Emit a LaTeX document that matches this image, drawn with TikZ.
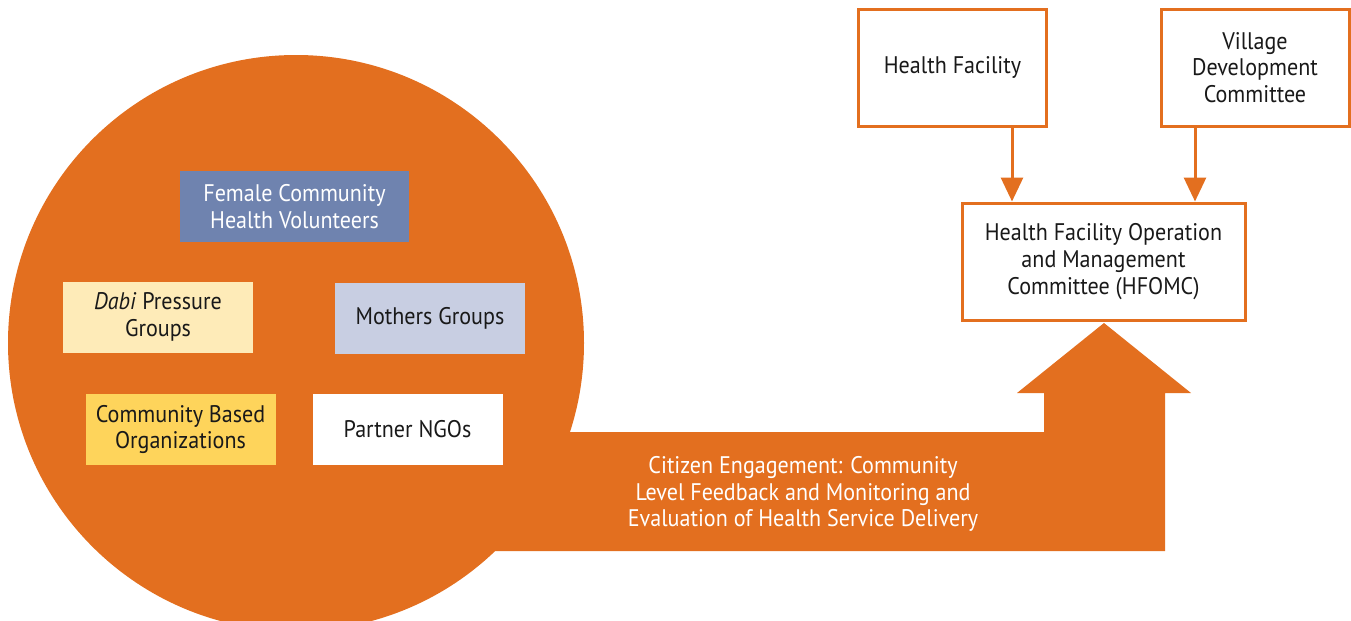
\documentclass[tikz,border=0pt]{standalone}
\usepackage{fontspec}
\setmainfont[FakeStretch=0.92]{PT Sans}
\usepackage{tikz}
\usetikzlibrary{arrows.meta,calc}

\definecolor{hforange}{HTML}{E36F1F}
\definecolor{fchvblue}{HTML}{6F83AF}
\definecolor{dabiyellow}{HTML}{FEEBB8}
\definecolor{mothersgrey}{HTML}{C8CEE2}
\definecolor{cbogold}{HTML}{FED45B}

\begin{document}
\begin{tikzpicture}[x=0.5pt,y=-0.5pt]
\tikzstyle{every node}=[font=\fontsize{12}{13.3}\selectfont,align=center,inner sep=0pt]
\tikzstyle{group}=[rectangle,minimum width=95pt,minimum height=35.5pt,text=black!90]
\tikzstyle{body}=[rectangle,draw=hforange,line width=1.5pt,fill=white,minimum height=58.5pt,text=black!90]
\tikzstyle{flow}=[draw=hforange,line width=1.5pt,-{Triangle[width=11pt,length=12pt]}]
\useasboundingbox (0,0) rectangle (1351,621);
\clip (0,0) rectangle (1351,621);

% community circle and the engagement arrow
\fill[hforange] (296,343) circle (144pt);
\fill[hforange] (296,432) -- (1044,432) -- (1044,393) -- (1017,393) -- (1104,323)
  -- (1191,393) -- (1165,393) -- (1165,551) -- (296,551) -- cycle;

% groups inside the circle
\node[group,fill=fchvblue,text=white,minimum width=114.5pt] (fchv) at (294.5,206.5) {Female Community\\Health Volunteers};
\node[group,fill=dabiyellow] (dabi) at (158,317) {\textit{Dabi} Pressure\\Groups};
\node[group,fill=mothersgrey] (mothers) at (430,318) {Mothers Groups};
\node[group,fill=cbogold] (cbo) at (180.5,429.5) {Community Based\\Organizations};
\node[group,fill=white] (ngo) at (407.5,429.5) {Partner NGOs};

\node[text=white] (engage) at (803,494) {Citizen Engagement: Community\\Level Feedback and Monitoring and\\Evaluation of Health Service Delivery};

% committees
\node[body,minimum width=94pt] (hf) at (952.5,67.5) {Health Facility};
\node[body,minimum width=94pt] (vdc) at (1255,67.5) {Village\\Development\\Committee};
\node[body,minimum width=141.5pt] (hfomc) at (1103.5,261.5) {Health Facility Operation\\and Management\\Committee (HFOMC)};

\draw[flow] ([xshift=29.75pt]hf.south) -- ([xshift=29.75pt]hf.south |- hfomc.north);
\draw[flow] ([xshift=-30pt]vdc.south) -- ([xshift=-30pt]vdc.south |- hfomc.north);
\end{tikzpicture}
\end{document}
